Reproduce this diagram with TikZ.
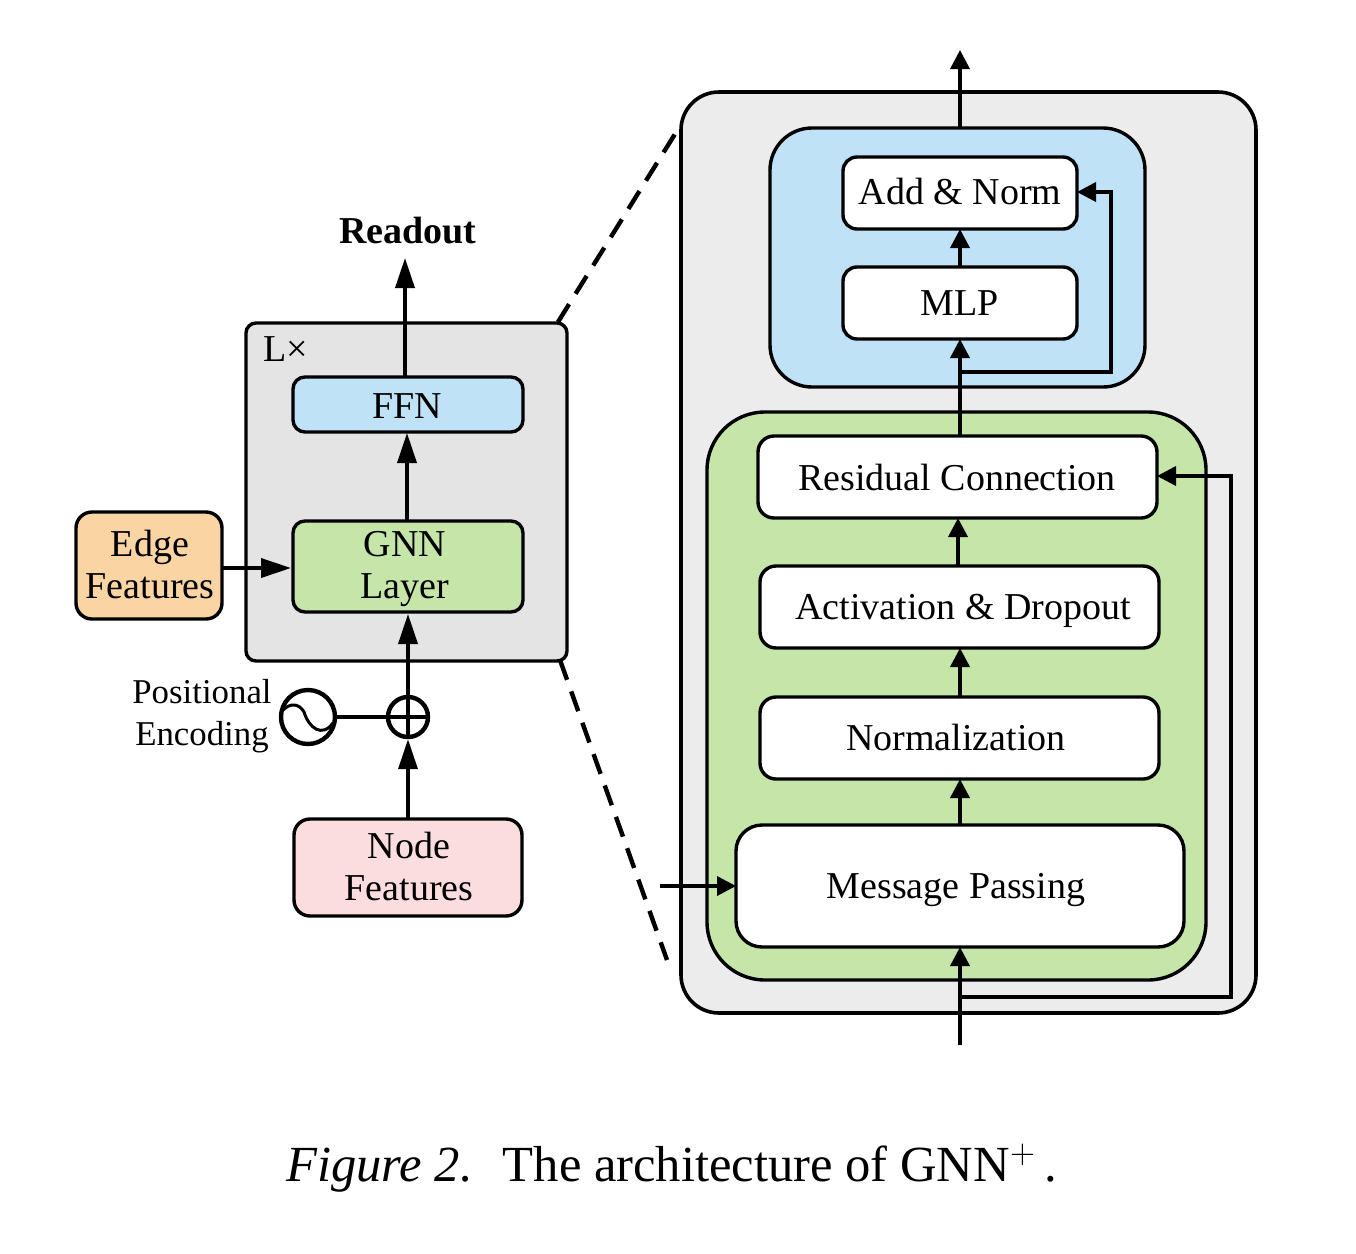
\documentclass[tikz,border=0pt]{standalone}
\usepackage{fontspec}
\setmainfont{Liberation Serif}
\usetikzlibrary{arrows.meta,calc}
\definecolor{gray1}{HTML}{E4E4E4}
\definecolor{gray2}{HTML}{ECECEC}
\definecolor{blue1}{HTML}{C0E2F7}
\definecolor{green1}{HTML}{C5E6A8}
\definecolor{orange1}{HTML}{FBD4A3}
\definecolor{pink1}{HTML}{FBDDDF}
\tikzset{
  x=0.5pt,y=-0.5pt,
  box/.style={draw=black,line width=1.7pt,rounded corners=#1,inner sep=0pt,outer sep=0pt},
  box/.default=6pt,
  lab/.style={font=\fontsize{19}{21}\selectfont,align=center,inner sep=0pt},
  conn/.style={draw=black,line width=1.8pt,-{Triangle[length=9.5pt,width=9.5pt]}},
  connlong/.style={draw=black,line width=1.8pt,-{Triangle[length=15pt,width=9.5pt]}},
  plain/.style={draw=black,line width=1.8pt},
  zoomline/.style={line width=2.2pt,dash pattern=on 10.5pt off 6.15pt},
}
\begin{document}
\begin{tikzpicture}
\useasboundingbox (0,0) rectangle (1356,1254);
% large panels
\path[fill=gray2,draw=black,line width=1.8pt,rounded corners=19pt] (681,92) rectangle (1256,1013);
\path[fill=blue1,draw=black,line width=1.7pt,rounded corners=21pt] (770,128) rectangle (1145,387);
\path[fill=green1,draw=black,line width=1.7pt,rounded corners=29pt] (707,412) rectangle (1206,980);
% left panel
\node[box=5pt,fill=gray1,minimum width=160.5pt,minimum height=169pt,anchor=north west] (panel) at (246,323) {};
\node[lab,anchor=west] (lx) at (263,349) {L×};
\node[box,fill=blue1,minimum width=115pt,minimum height=27.5pt,anchor=north west] (ffn) at (293,377) {};
\node[lab] (ffnl) at (407,406) {FFN};
\node[box,fill=green1,minimum width=115pt,minimum height=45.5pt,anchor=north west] (gnn) at (293,521) {};
\node[lab] (gnnl) at (405,569) {GNN\\Layer};
\node[box=8pt,fill=orange1,minimum width=73pt,minimum height=53.5pt,anchor=north west] (edge) at (76,512) {};
\node[lab] (edgel) at (150,564) {Edge\\Features};
\node[box=8pt,fill=pink1,minimum width=114pt,minimum height=48.5pt,anchor=north west] (nodef) at (294,819) {};
\node[lab] (nodel) at (409,866.5) {Node\\Features};
\node[lab,font=\fontsize{17.4}{21}\selectfont] (pe) at (202,716) {Positional\\Encoding};
\node[lab,font=\fontsize{19}{21}\selectfont\bfseries] (readout) at (408,231) {Readout};
% oscillator and sum
\node[draw=black,line width=2.2pt,circle,minimum size=27pt,inner sep=0pt] (osc) at (308,717) {};
\draw[line width=1.5pt] (283,710) .. controls (290,703) and (299,703) .. (304,712) .. controls (309,728) and (322,738) .. (333,723);
\node[draw=black,line width=2.2pt,circle,minimum size=20pt,inner sep=0pt] (sum) at (408,717) {};
\draw[plain] (sum.west) -- (sum.east);
\draw[plain] (sum.south) -- (sum.north);
\draw[plain] (osc) -- (sum.west);
\coordinate (rtop) at (405,258);
\draw[connlong] (nodef.north -| sum) -- (sum.south);
\draw[connlong] (sum.north) -- (408,614);
\draw[connlong] (407,521) -- (407,433);
\draw[connlong] (405,377) -- (rtop);
\draw[connlong] (edge.east |- 0,568) -- (291,568);
% dashed zoom lines
\coordinate (d1) at (558,322);\coordinate (d2) at (675,134);
\coordinate (d3) at (560,660);\coordinate (d4) at (667,960);
\draw[zoomline] (d1) -- (d2);
\draw[zoomline] (d3) -- (d4);
% right boxes
\node[box=7pt,fill=white,minimum width=117pt,minimum height=36pt,anchor=north west] (add) at (843,157) {};
\node[lab] (addl) at (960,191) {Add \& Norm};
\node[box=7pt,fill=white,minimum width=117pt,minimum height=36pt,anchor=north west] (mlp) at (843,267) {};
\node[lab] (mlpl) at (960,303) {MLP};
\node[box=8pt,fill=white,minimum width=199.5pt,minimum height=41pt,anchor=north west] (res) at (758,436) {};
\node[lab] (resl) at (957,477) {Residual Connection};
\node[box=8pt,fill=white,minimum width=199.5pt,minimum height=41pt,anchor=north west] (act) at (760,566) {};
\node[lab] (actl) at (963,611) {Activation \& Dropout};
\node[box=8pt,fill=white,minimum width=199.5pt,minimum height=41pt,anchor=north west] (norm) at (760,697) {};
\node[lab] (norml) at (956,737) {Normalization};
\node[box=13pt,fill=white,minimum width=224pt,minimum height=61pt,anchor=north west] (mp) at (736,825) {};
\node[lab] (mpl) at (956,890) {Message Passing};
% right connectors
\coordinate (top) at (960,50);
\coordinate (bot) at (960,1045);
\coordinate (mpin) at (660,886);
\coordinate (s1) at (960,372);
\coordinate (s2) at (960,997);
\draw[conn] (960,128) -- (top);
\draw[conn] (960,267) -- (add.south -| 960,0);
\draw[conn] (960,436) -- (mlp.south -| 960,0);
\draw[conn] (958,566) -- (res.south -| 958,0);
\draw[conn] (960,697) -- (act.south -| 960,0);
\draw[conn] (960,825) -- (norm.south -| 960,0);
\draw[conn] (bot) -- (mp.south -| 960,0);
\draw[conn] (mpin) -- (mp.west |- mpin);
\draw[conn] (s1) -- (1111,372) -- (1111,192) -- (add.east |- 0,192);
\draw[conn] (s2) -- (1231,997) -- (1231,476) -- (res.east |- 0,476);
% caption
\node[inner sep=0pt,anchor=west,font=\fontsize{25.3}{28}\selectfont] (cap) at (286,1168) {\textit{Figure 2.}\hspace{15pt}The architecture of GNN$^{+}$\,.};
\end{tikzpicture}
\end{document}
